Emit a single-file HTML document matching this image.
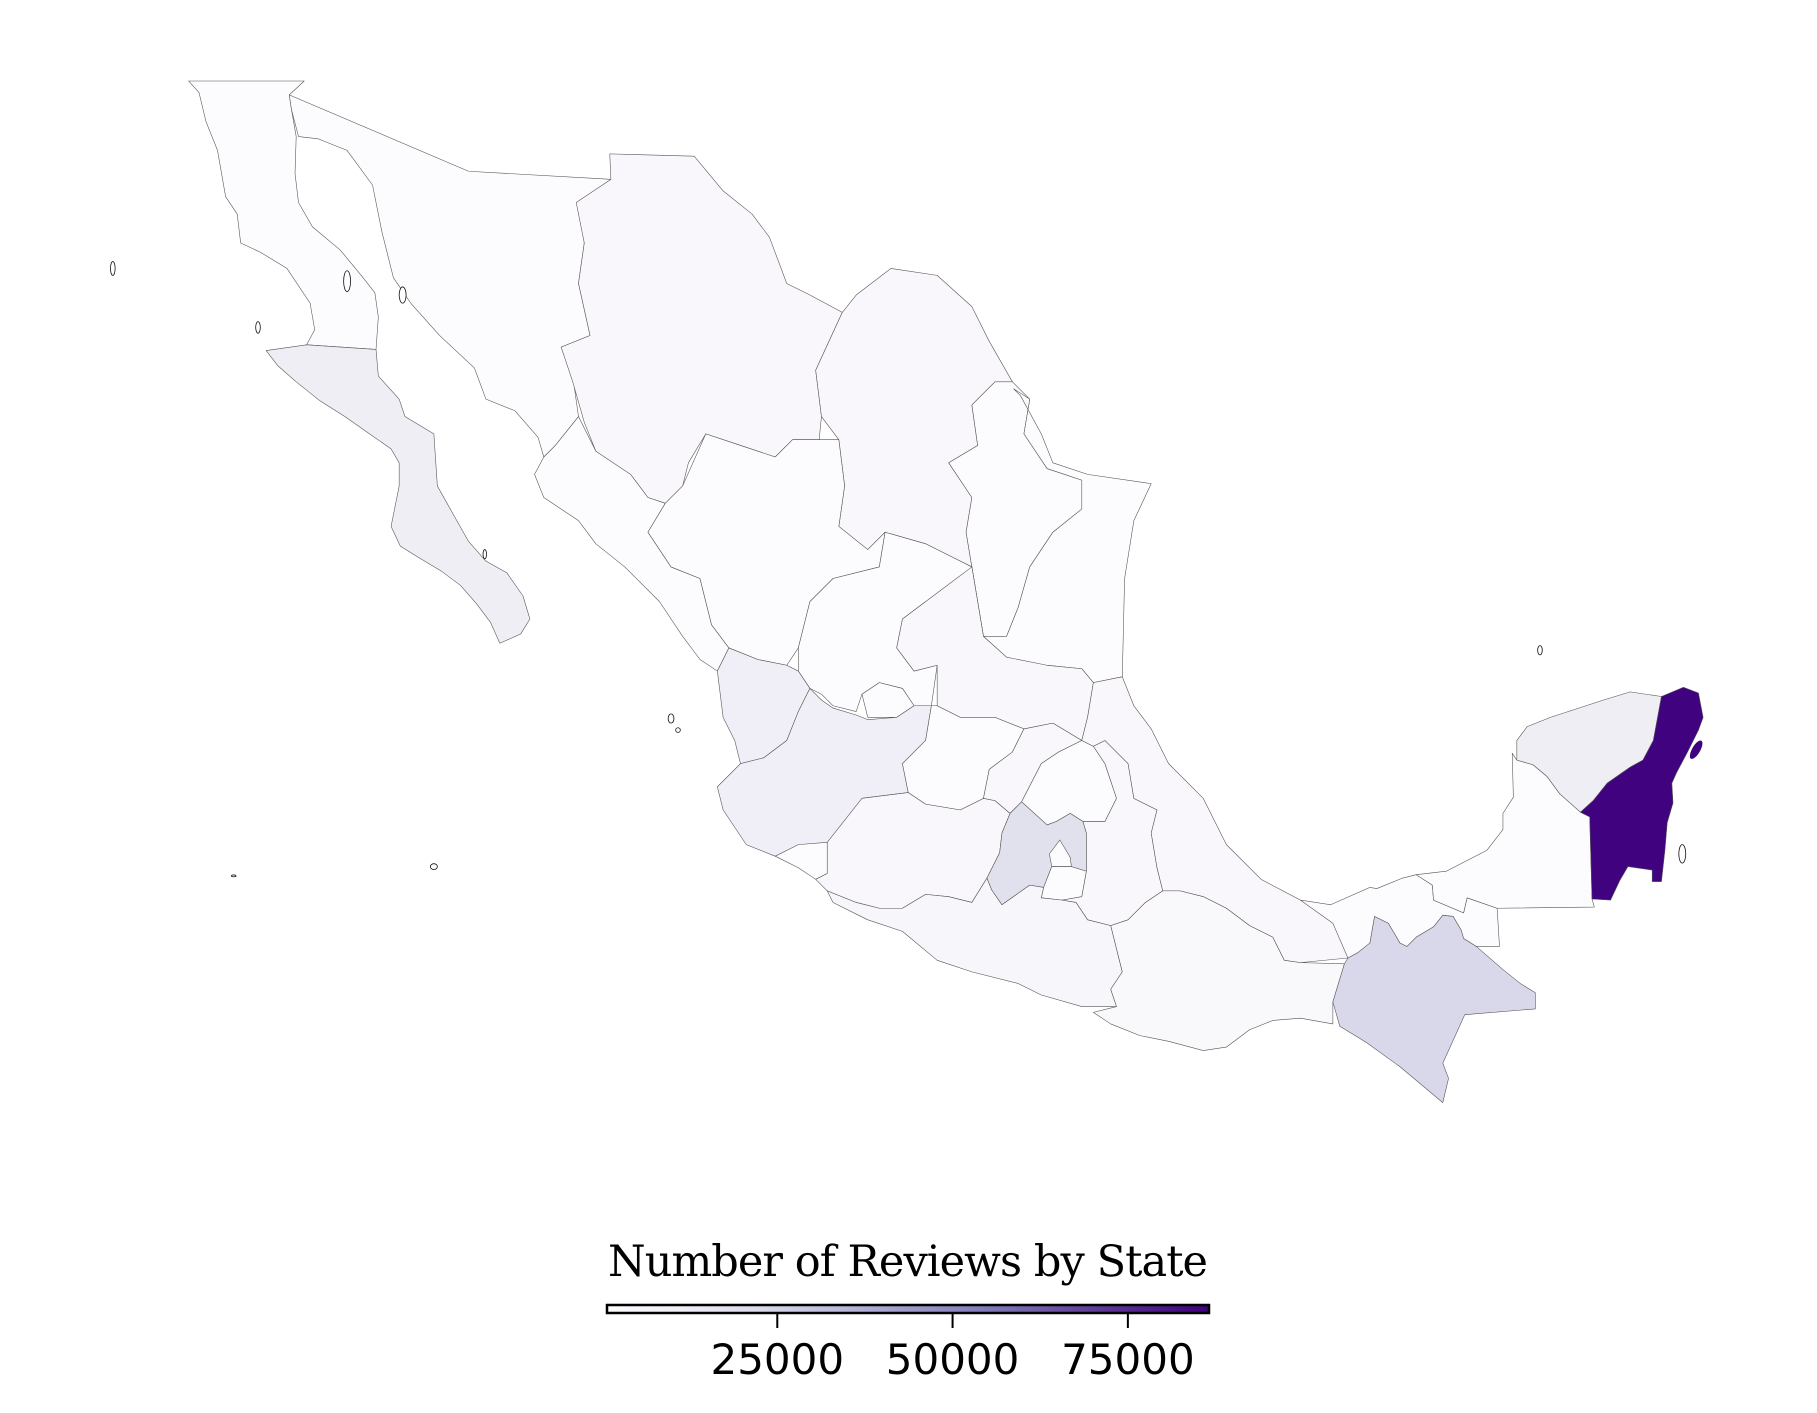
<!DOCTYPE html>
<html>
<head>
<meta charset="utf-8">
<style>
html,body{margin:0;padding:0;background:#fff;}
svg{display:block;}
</style>
</head>
<body>
<svg id="chart" width="1817" height="1413" viewBox="0 0 1817 1413" xmlns="http://www.w3.org/2000/svg">
  <defs>
    <linearGradient id="purples" x1="0" x2="1" y1="0" y2="0">
      <stop offset="0" stop-color="#fcfbfd"/>
      <stop offset="0.125" stop-color="#efedf5"/>
      <stop offset="0.25" stop-color="#dadaeb"/>
      <stop offset="0.375" stop-color="#bcbddc"/>
      <stop offset="0.5" stop-color="#9e9ac8"/>
      <stop offset="0.625" stop-color="#807dba"/>
      <stop offset="0.75" stop-color="#6a51a3"/>
      <stop offset="0.875" stop-color="#54278f"/>
      <stop offset="1" stop-color="#3f007d"/>
    </linearGradient>
  </defs>
  <g id="map" transform="scale(1.157)"></g>
  <g id="islands" transform="scale(1.157)" fill="#fff" stroke="#111" stroke-width="0.7">
    <ellipse cx="97.5" cy="232" rx="2" ry="6"/>
    <ellipse cx="223" cy="283" rx="2" ry="5"/>
    <ellipse cx="300" cy="243" rx="3" ry="9"/>
    <ellipse cx="348" cy="255" rx="3" ry="7"/>
    <ellipse cx="580" cy="621" rx="2.5" ry="4"/>
    <ellipse cx="586" cy="631" rx="2" ry="2"/>
    <ellipse cx="375" cy="749" rx="3" ry="2.5"/>
    <ellipse cx="202" cy="757" rx="2" ry="0.8"/>
    <ellipse cx="419" cy="479" rx="1.5" ry="4"/>
    <ellipse cx="1331" cy="562" rx="2" ry="4"/>
    <ellipse cx="1454" cy="738" rx="3" ry="8"/>
  </g>
  <g id="colorbar"></g>
</svg>
<script>
// ---- data ----
const stateNames = ["Baja California","Baja California Sur","Sonora","Chihuahua","Coahuila","Nuevo Leon","Tamaulipas","Sinaloa","Durango","Zacatecas","San Luis Potosi","Nayarit","Aguascalientes","Jalisco","Colima","Michoacan","Guanajuato","Queretaro","Hidalgo","Estado de Mexico","Ciudad de Mexico","Morelos","Tlaxcala","Puebla","Veracruz","Guerrero","Oaxaca","Chiapas","Tabasco","Campeche","Yucatan","Quintana Roo"];
const reviewCounts = [900,11000,800,3500,3500,800,700,900,700,700,3500,10500,800,10500,800,3500,800,3500,800,18500,700,800,700,3500,3500,4500,3000,23000,800,700,11000,86000];
const colorbarTicks = [25000,50000,75000];
const colorbarTickLabels = ["25000","50000","75000"];
const vMin = 714, vMax = 86570;

// geometry (display coordinates before scaling)
const shapes = {
"Baja California":"163,70 263,70 250,82 252,95 256,118 255,150 258,175 270,196 294,216 313,239 324,253 327,274 325,302 265,298 272,285 268,262 248,232 225,218 208,210 205,185 195,170 188,130 178,105 172,80",
"Baja California Sur":"230,303 265,298 325,302 327,325 345,345 350,360 375,375 378,420 392,445 405,468 420,485 438,495 452,515 458,535 450,548 432,556 424,538 412,522 398,506 382,494 362,482 346,472 338,455 345,420 345,400 338,388 318,374 298,360 276,346 256,330 240,316",
"Sonora":"250,82 405,148 528,155 500,175 505,210 500,245 510,290 485,300 495,325 500,360 480,385 470,395 465,378 445,355 420,345 410,318 380,290 355,262 340,240 330,200 322,160 300,130 275,120 258,118 252,95",
"Chihuahua":"527,133 600,135 625,165 650,185 665,205 680,245 700,255 728,270 705,320 710,360 708,380 685,380 670,395 640,385 610,375 595,400 590,420 575,435 560,430 545,410 530,405 515,390 505,365 495,330 485,300 510,290 500,245 505,210 498,175 528,155",
"Coahuila":"728,270 740,255 770,232 810,238 840,265 855,295 875,330 860,330 840,350 845,385 820,400 840,430 835,460 840,490 820,480 800,470 765,460 750,475 725,455 730,420 725,380 710,360 705,320",
"Nuevo Leon":"875,330 890,345 885,375 905,405 935,415 935,440 910,460 890,490 880,525 870,550 850,550 845,520 840,490 835,460 840,430 820,400 845,385 840,350 860,330",
"Tamaulipas":"876,336 882,342 900,375 910,400 940,410 995,418 980,450 972,500 970,585 945,590 935,578 905,575 890,575 870,568 850,550 870,550 880,525 890,490 910,460 935,440 935,415 905,405 885,375 890,345",
"Sinaloa":"470,395 480,385 500,360 515,390 545,410 560,430 575,435 560,460 580,490 605,500 615,540 630,560 620,580 605,570 590,550 570,520 540,490 515,470 500,450 470,430 462,410",
"Durango":"575,435 590,420 610,375 640,385 670,395 685,380 725,380 730,420 725,455 750,475 765,460 760,490 720,500 700,520 690,560 680,575 655,570 630,560 615,540 605,500 580,490 560,460",
"Zacatecas":"720,500 760,490 765,460 800,470 830,485 840,490 850,550 840,540 820,530 800,520 780,535 775,560 790,580 810,575 805,610 790,610 780,595 760,590 745,600 740,615 720,610 710,600 700,595 690,580 690,560 700,520",
"San Luis Potosi":"840,490 850,550 870,568 905,575 935,578 945,590 940,620 935,640 910,625 885,630 860,620 830,620 810,610 810,575 790,580 775,560 780,535 800,520 820,505",
"Nayarit":"630,560 655,570 680,575 690,580 700,595 690,615 680,640 660,655 640,660 635,640 625,620 620,580",
"Aguascalientes":"745,600 760,590 780,595 790,610 775,620 750,620",
"Jalisco":"620,680 640,660 660,655 680,640 690,615 700,595 710,605 720,612 740,618 750,622 775,620 790,610 805,610 800,640 780,660 785,685 745,690 740,710 750,740 720,755 705,748 690,740 670,740 645,730 625,700",
"Colima":"670,740 690,730 715,728 715,755 705,760 690,750",
"Michoacan":"715,728 745,690 785,685 800,695 830,700 850,690 860,692 873,703 866,720 864,737 853,759 840,780 820,775 800,773 780,785 760,785 740,780 715,770 705,760 715,755",
"Guanajuato":"800,640 805,610 810,610 830,620 860,620 885,630 875,650 855,665 850,690 830,700 800,695 785,685 780,660",
"Queretaro":"885,630 910,625 935,640 915,650 900,660 883,693 873,703 860,692 850,690 855,665 875,650",
"Hidalgo":"915,650 935,640 945,645 955,660 965,690 955,710 936,710 925,703 913,710 905,713 883,693 900,660",
"Estado de Mexico":"883,693 905,713 913,710 925,703 936,710 939,720 939,753 926,749 909,749 902,767 890,765 866,782 857,769 853,759 864,737 866,720 873,703",
"Ciudad de Mexico":"916,726 925,741 926,749 909,749 907,738",
"Morelos":"902,767 909,749 926,749 939,753 935,775 918,778 900,776",
"Tlaxcala":"945,720 955,710 970,705 985,712 975,725 955,728",
"Puebla":"945,645 955,640 975,660 980,690 1000,700 995,720 1000,750 1005,770 990,780 975,795 960,800 940,795 930,780 918,778 935,775 939,753 939,720 936,710 955,710 965,690 955,660",
"Veracruz":"970,585 980,610 995,630 1010,660 1040,690 1060,730 1090,760 1124,778 1150,782 1165,828 1124,832 1110,830 1100,810 1080,800 1060,785 1040,775 1020,770 1005,770 1000,750 995,720 1000,700 980,690 975,660 955,640 945,645 935,640 940,620 945,590",
"Guerrero":"715,770 740,780 760,785 780,785 800,773 820,775 840,780 853,759 857,769 866,782 890,765 902,767 900,776 918,778 930,780 940,795 960,800 970,840 960,855 965,870 935,870 900,860 880,850 840,840 810,830 780,805 750,795 720,780",
"Oaxaca":"960,800 975,795 990,780 1005,770 1020,770 1040,775 1060,785 1080,800 1100,810 1110,830 1124,832 1162,833 1152,866 1152,885 1124,880 1100,882 1080,890 1060,905 1040,908 1010,900 985,895 960,885 945,875 965,870 960,855 970,840",
"Chiapas":"1165,828 1174,823 1184,815 1188,792 1200,798 1210,815 1216,818 1224,810 1239,801 1247,791 1256,792 1263,804 1265,811 1276,818 1299,838 1314,850 1327,858 1327,872 1266,877 1247,919 1252,932 1247,953 1210,922 1181,901 1158,887 1152,866 1162,833",
"Tabasco":"1124,778 1150,782 1184,767 1190,768 1212,759 1224,756 1238,765 1239,778 1265,789 1268,776 1294,785 1296,818 1276,818 1265,811 1263,804 1256,792 1247,791 1239,801 1224,810 1216,818 1210,815 1200,798 1188,792 1184,815 1174,823 1165,828 1152,798",
"Campeche":"1311,657 1325,661 1337,671 1348,686 1366,702 1374,706 1376,777 1378,784 1294,785 1268,776 1265,789 1239,778 1238,765 1224,756 1250,753 1285,735 1299,717 1299,703 1308,689 1307,651",
"Yucatan":"1436,602 1409,598 1386,605 1340,620 1320,628 1311,640 1311,657 1325,661 1337,671 1348,686 1366,702 1377,692 1389,677 1409,663 1420,657 1429,640",
"Quintana Roo":"1436,602 1455,594 1468,599 1472,620 1468,631 1458,651 1449,668 1445,677 1446,694 1441,711 1439,735 1436,762 1428,762 1428,752 1407,749 1400,761 1392,778 1376,777 1374,706 1366,702 1377,692 1389,677 1409,663 1420,657 1429,640"
};

const purpleStops = ["#fcfbfd","#efedf5","#dadaeb","#bcbddc","#9e9ac8","#807dba","#6a51a3","#54278f","#3f007d"];
function hex(c){return [parseInt(c.slice(1,3),16),parseInt(c.slice(3,5),16),parseInt(c.slice(5,7),16)];}
function colorScale(v){
  let t=(v-vMin)/(vMax-vMin); t=Math.max(0,Math.min(1,t));
  const p=t*(purpleStops.length-1); const i=Math.min(Math.floor(p),purpleStops.length-2); const f=p-i;
  const a=hex(purpleStops[i]), b=hex(purpleStops[i+1]);
  return "rgb("+a.map((x,k)=>Math.round(x+(b[k]-x)*f)).join(",")+")";
}
const NS="http://www.w3.org/2000/svg";
const map=document.getElementById("map");
stateNames.forEach((name,i)=>{
  const poly=document.createElementNS(NS,"polygon");
  poly.setAttribute("points",shapes[name]);
  poly.setAttribute("fill",colorScale(reviewCounts[i]));
  poly.setAttribute("stroke","#555");
  poly.setAttribute("stroke-width","0.5");
  poly.setAttribute("stroke-linejoin","round");
  
  
  map.appendChild(poly);
});
// Cozumel (part of Quintana Roo)
const coz=document.createElementNS(NS,"ellipse");
coz.setAttribute("cx","1466");coz.setAttribute("cy","648");coz.setAttribute("rx","3.5");coz.setAttribute("ry","9");
coz.setAttribute("transform","rotate(30 1466 648)");
coz.setAttribute("fill",colorScale(reviewCounts[stateNames.indexOf("Quintana Roo")]));


map.appendChild(coz);

// colorbar
const cb=document.getElementById("colorbar");
const cbX0=607, cbX1=1209, cbY=1305, cbH=8;
function xScale(v){return cbX0+(v-vMin)/(vMax-vMin)*(cbX1-cbX0);}
const title=document.createElementNS(NS,"text");
title.setAttribute("x",(cbX0+cbX1)/2);title.setAttribute("y","1276");
title.setAttribute("text-anchor","middle");
title.setAttribute("font-family","'DejaVu Serif','Liberation Serif',serif");
title.setAttribute("font-size","43");
title.setAttribute("textLength","600");
title.textContent="Number of Reviews by State";


cb.appendChild(title);
const bar=document.createElementNS(NS,"rect");
bar.setAttribute("x",cbX0);bar.setAttribute("y",cbY);bar.setAttribute("width",cbX1-cbX0);bar.setAttribute("height",cbH);
bar.setAttribute("fill","url(#purples)");bar.setAttribute("stroke","#000");bar.setAttribute("stroke-width","2.5");


cb.appendChild(bar);
colorbarTicks.forEach((t,i)=>{
  const x=xScale(t);
  const ln=document.createElementNS(NS,"line");
  ln.setAttribute("x1",x);ln.setAttribute("x2",x);ln.setAttribute("y1",cbY+cbH+1);ln.setAttribute("y2",cbY+cbH+15);
  ln.setAttribute("stroke","#000");ln.setAttribute("stroke-width","2");
  
  
  cb.appendChild(ln);
  const tx=document.createElementNS(NS,"text");
  tx.setAttribute("x",x);tx.setAttribute("y","1374");tx.setAttribute("text-anchor","middle");
  tx.setAttribute("font-family","'DejaVu Sans','Liberation Sans',sans-serif");
  tx.setAttribute("font-size","42");
  tx.textContent=colorbarTickLabels[i];
  
  
  cb.appendChild(tx);
});
</script>
</body>
</html>
